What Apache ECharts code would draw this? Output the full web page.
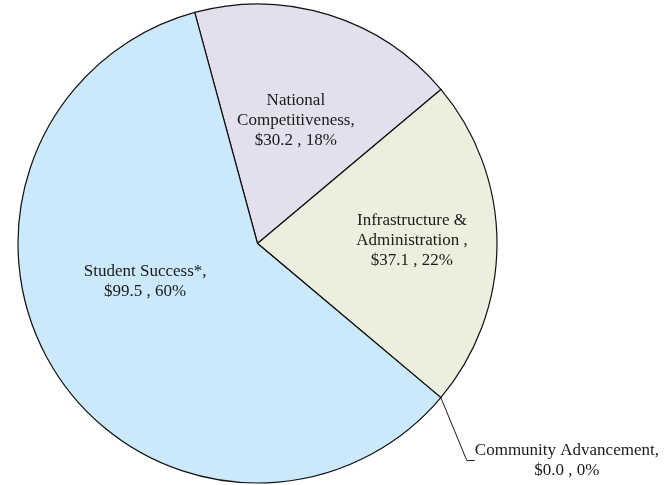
<!DOCTYPE html>
<html>
<head>
<meta charset="utf-8">
<script src="https://cdn.jsdelivr.net/npm/echarts@6/dist/echarts.min.js"></script>
<style>
  html, body { margin: 0; padding: 0; background: #ffffff; }
  #chart { width: 669px; height: 485px; }
</style>
</head>
<body>
<div id="chart"></div>
<script>
// Budget allocation ($ millions) by strategic area
const categories = [
  'National\nCompetitiveness',
  'Infrastructure &\nAdministration ',
  'Community Advancement',
  'Student Success*'
];
const amounts = [30.2, 37.1, 0.0, 99.5];

const sliceColors = ['#e4dfec', '#ebf0de', '#dde8cc', '#cce9fc'];

// Label placement relative to each slice: [angle shift (deg), radius fraction]
const labelPolar = [
  [0, 0.536],
  [-1, 0.645],
  [-5, 1.578],
  [14, 0.495]
];

const CX = 257.5, CY = 243.5, R = 239.5;
const START_ANGLE = 105.2; // ECharts convention: CCW from 3 o'clock

const total = amounts.reduce((a, b) => a + b, 0);

// mid angle of every slice, measured clockwise from 12 o'clock
const midAngles = [];
let acc = 90 - START_ANGLE;
amounts.forEach(v => {
  const span = v / total * 360;
  midAngles.push(acc + span / 2);
  acc += span;
});

const data = categories.map((name, i) => {
  const item = { name: name, value: amounts[i], itemStyle: { color: sliceColors[i] } };
  if (amounts[i] === 0) {
    item.label = { position: 'outside' };
    item.labelLine = { show: true };
  }
  return item;
});

const chart = echarts.init(document.getElementById('chart'), null, { renderer: 'canvas' });

chart.setOption({
  backgroundColor: '#ffffff',
  animation: false,
  series: [{
    type: 'pie',
    center: [CX, CY],
    radius: [0, R],
    startAngle: START_ANGLE,
    clockwise: true,
    avoidLabelOverlap: false,
    minShowLabelAngle: 0,
    data: data,
    itemStyle: { borderColor: '#111111', borderWidth: 1.2 },
    emphasis: { disabled: true },
    label: {
      show: true,
      position: 'inside',
      fontFamily: 'Liberation Serif',
      fontSize: 17,
      lineHeight: 20,
      color: '#1a1a1a',
      align: 'center',
      formatter: p => p.name + ',\n$' + p.value.toFixed(1) + ' , ' + Math.round(p.percent) + '%'
    },
    labelLine: {
      show: false,
      length: 20,
      length2: 8,
      smooth: false,
      lineStyle: { color: '#1a1a1a', width: 1 }
    },
    labelLayout: function (params) {
      const i = params.dataIndex;
      const a = (midAngles[i] + labelPolar[i][0]) * Math.PI / 180;
      const r = labelPolar[i][1] * R;
      return {
        x: CX + r * Math.sin(a),
        y: CY - r * Math.cos(a),
        align: 'center',
        verticalAlign: 'middle'
      };
    }
  }]
});
</script>
</body>
</html>
